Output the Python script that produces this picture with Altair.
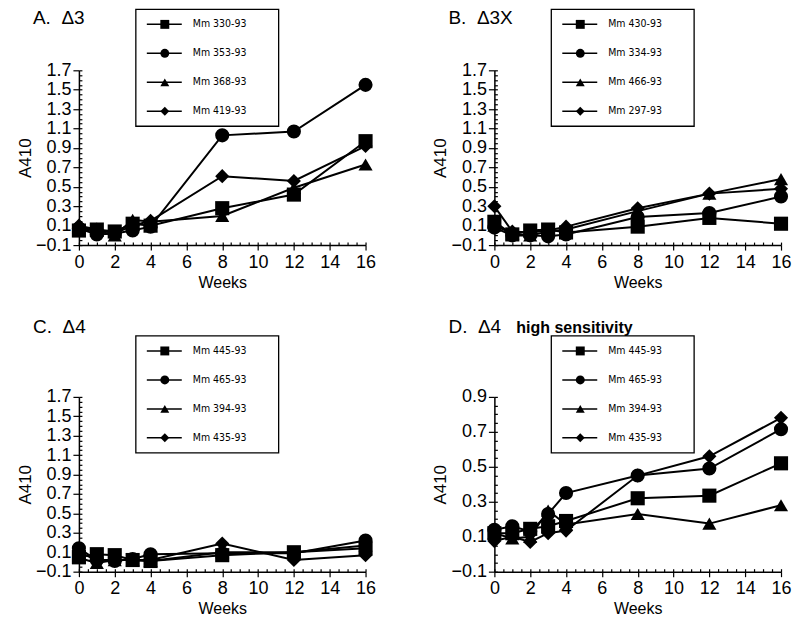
import altair as alt
import pandas as pd

weeks = [0, 1, 2, 3, 4, 8, 12, 16]
shapes = ["square", "circle", "triangle-up", "diamond"]

x_ticks = [0, 2, 4, 6, 8, 10, 12, 14, 16]
y_ticks_big = [-0.1, 0.1, 0.3, 0.5, 0.7, 0.9, 1.1, 1.3, 1.5, 1.7]
y_ticks_small = [-0.1, 0.1, 0.3, 0.5, 0.7, 0.9]

# Panel A
a_names = ["Mm 330-93", "Mm 353-93", "Mm 368-93", "Mm 419-93"]
a_330 = [0.05, 0.06, 0.04, 0.12, 0.10, 0.28, 0.42, 0.97]
a_353 = [0.07, 0.01, 0.02, 0.05, 0.09, 1.03, 1.07, 1.55]
a_368 = [0.08, 0.05, 0.00, 0.16, 0.14, 0.20, 0.49, 0.73]
a_419 = [0.10, 0.06, 0.02, 0.10, 0.15, 0.61, 0.56, 0.92]

# Panel B
b_names = ["Mm 430-93", "Mm 334-93", "Mm 466-93", "Mm 297-93"]
b_430 = [0.14, 0.01, 0.05, 0.06, 0.03, 0.09, 0.18, 0.12]
b_334 = [0.08, 0.00, 0.00, -0.01, 0.01, 0.19, 0.23, 0.40]
b_466 = [0.10, 0.02, 0.00, 0.04, 0.06, 0.25, 0.43, 0.58]
b_297 = [0.30, 0.04, 0.03, 0.05, 0.09, 0.28, 0.43, 0.48]

# Panel C
c_names = ["Mm 445-93", "Mm 465-93", "Mm 394-93", "Mm 435-93"]
c_445 = [0.05, 0.08, 0.07, 0.02, 0.01, 0.07, 0.10, 0.14]
c_465 = [0.14, 0.02, 0.01, 0.03, 0.08, 0.09, 0.09, 0.22]
c_394 = [0.04, -0.01, 0.02, 0.02, 0.01, 0.10, 0.10, 0.17]
c_435 = [0.10, 0.02, 0.02, 0.02, 0.02, 0.19, 0.02, 0.07]

# Panel D
d_names = ["Mm 445-93", "Mm 465-93", "Mm 394-93", "Mm 435-93"]
d_445 = [0.12, 0.12, 0.145, 0.16, 0.19, 0.32, 0.335, 0.52]
d_465 = [0.14, 0.16, 0.13, 0.23, 0.35, 0.45, 0.49, 0.715]
d_394 = [0.12, 0.09, 0.10, 0.25, 0.17, 0.23, 0.175, 0.28]
d_435 = [0.075, 0.10, 0.07, 0.12, 0.135, 0.45, 0.56, 0.78]

FONT = "Liberation Sans"
LEGFONT = "DejaVu Sans Condensed, Liberation Sans Narrow, Liberation Sans"
W, H = 287, 175


def panel(label, sub, names, series, y_ticks, title_y):
    rows = []
    for n, vs in zip(names, series):
        for w, v in zip(weeks, vs):
            rows.append({"series": n, "week": w, "a410": v})
    df = pd.DataFrame(rows)
    ymin, ymax = y_ticks[0], y_ticks[-1]
    y_minor = [round(ymin + 0.05 * i, 3) for i in range(int(round((ymax - ymin) / 0.05)) + 1)]
    x_minor = [0.5 * i for i in range(33)]
    xs = alt.Scale(domain=[0, 16], nice=False, zero=False)
    ys = alt.Scale(domain=[ymin, ymax], nice=False, zero=False)
    shape_scale = alt.Scale(domain=names, range=shapes)

    base = alt.Chart(df)
    lines = base.mark_line(color="black", strokeWidth=2).encode(
        x=alt.X("week:Q", scale=xs, axis=alt.Axis(
            values=x_ticks, title="Weeks", tickSize=5, labelPadding=3,
            titlePadding=3, titleFontSize=16, format="d", labelFlush=False)),
        y=alt.Y("a410:Q", scale=ys, axis=alt.Axis(
            values=y_ticks, title="A410", format=".1f", tickSize=6,
            labelPadding=2, titlePadding=1, labelFlush=False)),
        detail="series:N",
        order="week:Q",
    )
    points = base.mark_point(filled=True, color="black", size=200, opacity=1).encode(
        x=alt.X("week:Q", scale=xs, axis=alt.Axis(
            orient="top", offset=-H, values=x_minor, labels=False, domain=False,
            tickSize=3, title=None)),
        y=alt.Y("a410:Q", scale=ys, axis=alt.Axis(
            orient="right", offset=-W, values=y_minor, labels=False, domain=False,
            tickSize=3, title=None, minExtent=0)),
        shape=alt.Shape("series:N", scale=shape_scale, legend=None),
    )

    legdf = pd.DataFrame({"series": names, "row": [0, 1, 2, 3]})
    ly = alt.Y("row:Q", scale=alt.Scale(domain=[0, 3], range=[-46, 41]), axis=None)
    one = pd.DataFrame({"t": [label]})
    box = alt.Chart(one).mark_rect(fill="white", stroke="black", strokeWidth=1.3).encode(
        x=alt.value(57), x2=alt.value(200), y=alt.value(-61), y2=alt.value(56))
    legline = alt.Chart(legdf).mark_rule(color="black", strokeWidth=1.5).encode(
        x=alt.value(68), x2=alt.value(103), y=ly)
    legpt = alt.Chart(legdf).mark_point(filled=True, color="black", size=80, opacity=1).encode(
        x=alt.value(86), y=ly,
        shape=alt.Shape("series:N", scale=shape_scale, legend=None))
    legtxt = alt.Chart(legdf).mark_text(
        align="left", baseline="middle", font=LEGFONT, fontSize=10.5, color="black").encode(
        x=alt.value(114), y=ly, text="series:N")
    title = alt.Chart(one).mark_text(
        align="left", baseline="alphabetic", font=FONT, fontSize=19, color="black").encode(
        x=alt.value(-46), y=alt.value(title_y), text="t:N")
    layers = [lines, points, box, legline, legpt, legtxt, title]
    if sub:
        subdf = pd.DataFrame({"t": [sub]})
        subt = alt.Chart(subdf).mark_text(
            align="left", baseline="alphabetic", font=FONT, fontSize=16,
            fontWeight="bold", color="black").encode(
            x=alt.value(22), y=alt.value(title_y), text="t:N")
        layers.append(subt)
    return alt.layer(*layers).resolve_scale(y="independent").resolve_axis(
        x="independent", y="independent").properties(width=W, height=H)


pA = panel("A.\u00a0\u00a0\u03943", "", a_names, [a_330, a_353, a_368, a_419], y_ticks_big, -46)
pB = panel("B.\u00a0\u00a0\u03943X", "", b_names, [b_430, b_334, b_466, b_297], y_ticks_big, -46)
pC = panel("C.\u00a0\u00a0\u03944", "", c_names, [c_445, c_465, c_394, c_435], y_ticks_big, -64)
pD = panel("D.\u00a0\u00a0\u03944", "high sensitivity", d_names, [d_445, d_465, d_394, d_435], y_ticks_small, -64)

chart = alt.vconcat(
    alt.hconcat(pA, pB, spacing=55),
    alt.hconcat(pC, pD, spacing=55),
    spacing=28,
).properties(
    padding={"left": 8, "top": 0, "right": 0, "bottom": 0}
).configure_view(stroke=None).configure_axis(
    grid=False,
    domainColor="black",
    domainWidth=1.5,
    tickColor="black",
    tickWidth=1.2,
    labelColor="black",
    labelFont=FONT,
    labelFontSize=18,
    titleColor="black",
    titleFont=FONT,
    titleFontSize=17,
    titleFontWeight="normal",
)

chart.save("out.html", embed_options={"renderer": "svg", "actions": False})
